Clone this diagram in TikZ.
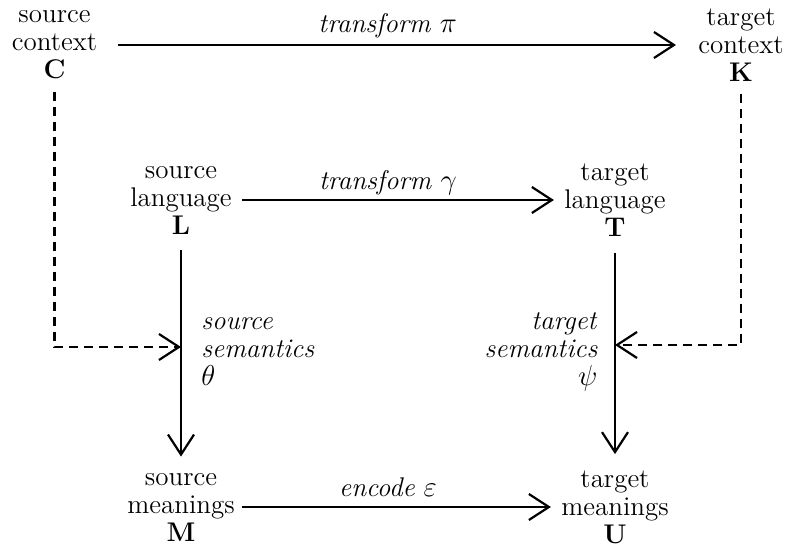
\documentclass[tikz,border=0pt]{standalone}
\usepackage{amsmath,amssymb}
\usepackage{tikz}
\usetikzlibrary{arrows.meta,calc}

\newcommand{\mapfont}{\fontsize{13.5pt}{14pt}\selectfont}

\tikzset{
    obj/.style={align=center, inner sep=0pt, font=\mapfont},
    lbl/.style={inner sep=0pt, font=\mapfont},
    map/.style={line width=1.1pt, -{Straight Barb[length=10pt,width=13pt,line width=1.1pt]}},
    ctx/.style={map, dash pattern=on 4.5pt off 3pt}
}

\begin{document}
\begin{tikzpicture}[x=0.5pt, y=-0.5pt]
    \useasboundingbox (0,0) rectangle (788,550);

    % contexts
    \node[obj] (srcctx) at (54.5,45) {source\\context\\\textbf{C}};
    \node[obj] (tgtctx) at (741,45) {target\\context\\\textbf{K}};

    % languages
    \node[obj] (srclang) at (181,200) {source\\language\\\textbf{L}};
    \node[obj] (tgtlang) at (615,200) {target\\language\\\textbf{T}};

    % meanings
    \node[obj] (srcmean) at (181,507) {source\\meanings\\\textbf{M}};
    \node[obj] (tgtmean) at (615,507) {target\\meanings\\\textbf{U}};

    \draw[map, shorten <=10pt, shorten >=11pt] (srcctx) -- (tgtctx)
        node[lbl, midway, anchor=base, yshift=6pt, xshift=-5pt] {\textit{transform} $\pi$};
    \draw[map, shorten <=5pt, shorten >=5pt] (srclang) -- (tgtlang)
        node[lbl, midway, anchor=base, yshift=5pt, xshift=-5pt] {\textit{transform} $\gamma$};
    \draw[map, shorten <=3.5pt, shorten >=5pt] (srcmean) -- (tgtmean)
        node[lbl, midway, anchor=base, yshift=5pt, xshift=-5pt] {\textit{encode} $\varepsilon$};

    \draw[map, shorten <=8pt, shorten >=8pt] (srclang) -- (srcmean);
    \draw[map, shorten <=8pt, shorten >=8pt] (tgtlang) -- (tgtmean);

    \node[lbl, align=left, anchor=west] at (201,352) {\textit{source}\\\textit{semantics}\\$\theta$};
    \node[lbl, align=right, anchor=east] at (598,352) {\textit{target}\\\textit{semantics}\\$\psi$};

    % context feeds the semantics
    \coordinate (srcsem) at (181,347);
    \coordinate (tgtsem) at (615,345);
    \draw[ctx, shorten <=6pt] (srcctx.south) |- (srcsem);
    \draw[ctx, shorten <=6pt] (tgtctx.south) |- (tgtsem);
\end{tikzpicture}
\end{document}
